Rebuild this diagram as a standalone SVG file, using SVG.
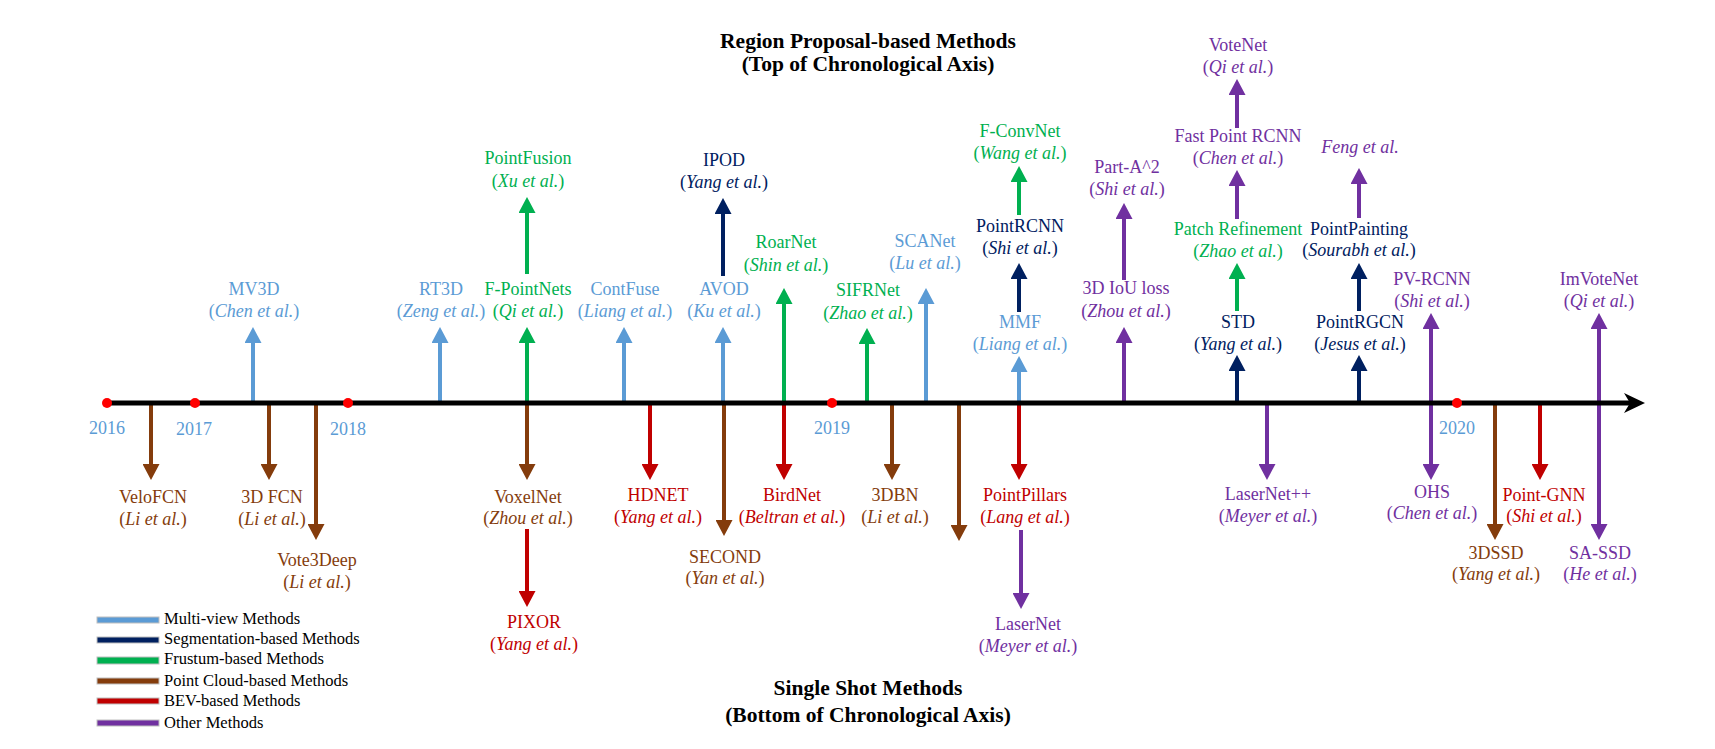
<svg xmlns="http://www.w3.org/2000/svg" width="1715" height="749" viewBox="0 0 1715 749">
<style>
.t, .t text, .t tspan{font-family:"Liberation Serif","Times New Roman",serif;font-size:18px;text-anchor:middle}
.i{font-style:italic}
.h{font-family:"Liberation Serif","Times New Roman",serif;font-size:21.5px;font-weight:bold;text-anchor:middle;fill:#000}
.lg{font-family:"Liberation Serif","Times New Roman",serif;font-size:16.5px;fill:#000}
.mv{fill:#5B9BD5}.sg{fill:#002060}.fr{fill:#00B050}.pc{fill:#843C0C}.bev{fill:#C00000}.ot{fill:#7030A0}
.a{stroke-width:4;fill:none}
.amv{stroke:#5B9BD5;marker-end:url(#hmv)}
.asg{stroke:#002060;marker-end:url(#hsg)}
.afr{stroke:#00B050;marker-end:url(#hfr)}
.apc{stroke:#843C0C;marker-end:url(#hpc)}
.abev{stroke:#C00000;marker-end:url(#hbev)}
.aot{stroke:#7030A0;marker-end:url(#hot)}
.dot{fill:#FF0000}
.yr{font-family:"Liberation Serif","Times New Roman",serif;font-size:18px;text-anchor:middle;fill:#5B9BD5}
.lb{stroke:#BFBFBF;stroke-width:1}
</style>
<defs>
<marker id="hmv" markerUnits="userSpaceOnUse" markerWidth="16" markerHeight="17" viewBox="0 0 16 17" refX="6" refY="8.5" orient="auto"><path d="M0,0 L16,8.5 L0,17 Z" fill="#5B9BD5"/></marker>
<marker id="hsg" markerUnits="userSpaceOnUse" markerWidth="16" markerHeight="17" viewBox="0 0 16 17" refX="6" refY="8.5" orient="auto"><path d="M0,0 L16,8.5 L0,17 Z" fill="#002060"/></marker>
<marker id="hfr" markerUnits="userSpaceOnUse" markerWidth="16" markerHeight="17" viewBox="0 0 16 17" refX="6" refY="8.5" orient="auto"><path d="M0,0 L16,8.5 L0,17 Z" fill="#00B050"/></marker>
<marker id="hpc" markerUnits="userSpaceOnUse" markerWidth="16" markerHeight="17" viewBox="0 0 16 17" refX="6" refY="8.5" orient="auto"><path d="M0,0 L16,8.5 L0,17 Z" fill="#843C0C"/></marker>
<marker id="hbev" markerUnits="userSpaceOnUse" markerWidth="16" markerHeight="17" viewBox="0 0 16 17" refX="6" refY="8.5" orient="auto"><path d="M0,0 L16,8.5 L0,17 Z" fill="#C00000"/></marker>
<marker id="hot" markerUnits="userSpaceOnUse" markerWidth="16" markerHeight="17" viewBox="0 0 16 17" refX="6" refY="8.5" orient="auto"><path d="M0,0 L16,8.5 L0,17 Z" fill="#7030A0"/></marker>
</defs>
<rect width="1715" height="749" fill="#fff"/>

<g id="titles">
<text class="h" x="868" y="48">Region Proposal-based Methods</text>
<text class="h" x="868" y="71">(Top of Chronological Axis)</text>
<text class="h" x="868" y="695">Single Shot Methods</text>
<text class="h" x="868" y="722">(Bottom of Chronological Axis)</text>
</g>

<g id="connectors">
<line class="a apc" x1="151" y1="405" x2="151" y2="470"/>
<line class="a amv" x1="253" y1="401" x2="253" y2="337"/>
<line class="a apc" x1="269" y1="405" x2="269" y2="470"/>
<line class="a apc" x1="316" y1="405" x2="316" y2="530"/>
<line class="a amv" x1="440" y1="401" x2="440" y2="337"/>
<line class="a afr" x1="527" y1="401" x2="527" y2="337"/>
<line class="a afr" x1="527" y1="274" x2="527" y2="207"/>
<line class="a apc" x1="527" y1="405" x2="527" y2="470"/>
<line class="a abev" x1="527" y1="529" x2="527" y2="597"/>
<line class="a amv" x1="624" y1="401" x2="624" y2="337"/>
<line class="a abev" x1="650" y1="405" x2="650" y2="470"/>
<line class="a amv" x1="723" y1="401" x2="723" y2="337"/>
<line class="a asg" x1="723" y1="276" x2="723" y2="208"/>
<line class="a apc" x1="724" y1="405" x2="724" y2="526"/>
<line class="a afr" x1="784" y1="401" x2="784" y2="298"/>
<line class="a abev" x1="784" y1="405" x2="784" y2="470"/>
<line class="a afr" x1="867" y1="401" x2="867" y2="338"/>
<line class="a apc" x1="892" y1="405" x2="892" y2="470"/>
<line class="a amv" x1="926" y1="401" x2="926" y2="298"/>
<line class="a apc" x1="959" y1="405" x2="959" y2="531"/>
<line class="a amv" x1="1019" y1="401" x2="1019" y2="366"/>
<line class="a asg" x1="1019" y1="312" x2="1019" y2="273"/>
<line class="a afr" x1="1019" y1="215" x2="1019" y2="176"/>
<line class="a abev" x1="1019" y1="405" x2="1019" y2="470"/>
<line class="a aot" x1="1021" y1="530" x2="1021" y2="599"/>
<line class="a aot" x1="1124" y1="401" x2="1124" y2="337"/>
<line class="a aot" x1="1124" y1="280" x2="1124" y2="213"/>
<line class="a asg" x1="1237" y1="401" x2="1237" y2="365"/>
<line class="a afr" x1="1237" y1="311" x2="1237" y2="273"/>
<line class="a aot" x1="1237" y1="219" x2="1237" y2="180"/>
<line class="a aot" x1="1237" y1="128" x2="1237" y2="89"/>
<line class="a aot" x1="1267" y1="405" x2="1267" y2="470"/>
<line class="a asg" x1="1359" y1="401" x2="1359" y2="365"/>
<line class="a asg" x1="1359" y1="311" x2="1359" y2="273"/>
<line class="a aot" x1="1359" y1="218" x2="1359" y2="178"/>
<line class="a aot" x1="1431" y1="401" x2="1431" y2="323"/>
<line class="a aot" x1="1431" y1="405" x2="1431" y2="470"/>
<line class="a apc" x1="1495" y1="405" x2="1495" y2="530"/>
<line class="a abev" x1="1540" y1="405" x2="1540" y2="470"/>
<line class="a aot" x1="1599" y1="401" x2="1599" y2="323"/>
<line class="a aot" x1="1599" y1="405" x2="1599" y2="530"/>
</g>

<g id="axis">
<line x1="107" y1="403" x2="1630" y2="403" stroke="#000" stroke-width="5"/>
<path d="M1645,403 L1624,393 L1630,403 L1624,413 Z" fill="#000"/>
<circle class="dot" cx="107" cy="403" r="5"/>
<circle class="dot" cx="195" cy="403" r="5"/>
<circle class="dot" cx="348" cy="403" r="5"/>
<circle class="dot" cx="832" cy="403" r="5"/>
<circle class="dot" cx="1457" cy="403" r="5"/>
<text class="yr" x="107" y="434">2016</text>
<text class="yr" x="194" y="435">2017</text>
<text class="yr" x="348" y="435">2018</text>
<text class="yr" x="832" y="434">2019</text>
<text class="yr" x="1457" y="434">2020</text>
</g>

<g id="n-velofcn" class="t pc"><text x="153" y="503">VeloFCN</text><text x="153" y="525">(<tspan class="i">Li et al.</tspan>)</text></g>
<g id="n-mv3d" class="t mv"><text x="254" y="295">MV3D</text><text x="254" y="317">(<tspan class="i">Chen et al.</tspan>)</text></g>
<g id="n-3dfcn" class="t pc"><text x="272" y="503">3D FCN</text><text x="272" y="525">(<tspan class="i">Li et al.</tspan>)</text></g>
<g id="n-vote3deep" class="t pc"><text x="317" y="566">Vote3Deep</text><text x="317" y="588">(<tspan class="i">Li et al.</tspan>)</text></g>
<g id="n-rt3d" class="t mv"><text x="441" y="295">RT3D</text><text x="441" y="317">(<tspan class="i">Zeng et al.</tspan>)</text></g>
<g id="n-fpointnets" class="t fr"><text x="528" y="295">F-PointNets</text><text x="528" y="317">(<tspan class="i">Qi et al.</tspan>)</text></g>
<g id="n-pointfusion" class="t fr"><text x="528" y="164">PointFusion</text><text x="528" y="187">(<tspan class="i">Xu et al.</tspan>)</text></g>
<g id="n-contfuse" class="t mv"><text x="625" y="295">ContFuse</text><text x="625" y="317">(<tspan class="i">Liang et al.</tspan>)</text></g>
<g id="n-avod" class="t mv"><text x="724" y="295">AVOD</text><text x="724" y="317">(<tspan class="i">Ku et al.</tspan>)</text></g>
<g id="n-ipod" class="t sg"><text x="724" y="166">IPOD</text><text x="724" y="188">(<tspan class="i">Yang et al.</tspan>)</text></g>
<g id="n-roarnet" class="t fr"><text x="786" y="248">RoarNet</text><text x="786" y="271">(<tspan class="i">Shin et al.</tspan>)</text></g>
<g id="n-voxelnet" class="t pc"><text x="528" y="503">VoxelNet</text><text x="528" y="524">(<tspan class="i">Zhou et al.</tspan>)</text></g>
<g id="n-pixor" class="t bev"><text x="534" y="628">PIXOR</text><text x="534" y="650">(<tspan class="i">Yang et al.</tspan>)</text></g>
<g id="n-hdnet" class="t bev"><text x="658" y="501">HDNET</text><text x="658" y="523">(<tspan class="i">Yang et al.</tspan>)</text></g>
<g id="n-second" class="t pc"><text x="725" y="563">SECOND</text><text x="725" y="584">(<tspan class="i">Yan et al.</tspan>)</text></g>
<g id="n-birdnet" class="t bev"><text x="792" y="501">BirdNet</text><text x="792" y="523">(<tspan class="i">Beltran et al.</tspan>)</text></g>
<g id="n-sifrnet" class="t fr"><text x="868" y="296">SIFRNet</text><text x="868" y="319">(<tspan class="i">Zhao et al.</tspan>)</text></g>
<g id="n-scanet" class="t mv"><text x="925" y="247">SCANet</text><text x="925" y="269">(<tspan class="i">Lu et al.</tspan>)</text></g>
<g id="n-3dbn" class="t pc"><text x="895" y="501">3DBN</text><text x="895" y="523">(<tspan class="i">Li et al.</tspan>)</text></g>
<g id="n-mmf" class="t mv"><text x="1020" y="328">MMF</text><text x="1020" y="350">(<tspan class="i">Liang et al.</tspan>)</text></g>
<g id="n-pointrcnn" class="t sg"><text x="1020" y="232">PointRCNN</text><text x="1020" y="254">(<tspan class="i">Shi et al.</tspan>)</text></g>
<g id="n-fconvnet" class="t fr"><text x="1020" y="137">F-ConvNet</text><text x="1020" y="159">(<tspan class="i">Wang et al.</tspan>)</text></g>
<g id="n-pointpillars" class="t bev"><text x="1025" y="501">PointPillars</text><text x="1025" y="523">(<tspan class="i">Lang et al.</tspan>)</text></g>
<g id="n-lasernet" class="t ot"><text x="1028" y="630">LaserNet</text><text x="1028" y="652">(<tspan class="i">Meyer et al.</tspan>)</text></g>
<g id="n-3diou" class="t ot"><text x="1126" y="294">3D IoU loss</text><text x="1126" y="317">(<tspan class="i">Zhou et al.</tspan>)</text></g>
<g id="n-parta2" class="t ot"><text x="1127" y="173">Part-A^2</text><text x="1127" y="195">(<tspan class="i">Shi et al.</tspan>)</text></g>
<g id="n-std" class="t sg"><text x="1238" y="328">STD</text><text x="1238" y="350">(<tspan class="i">Yang et al.</tspan>)</text></g>
<g id="n-patchref" class="t fr"><text x="1238" y="235">Patch Refinement</text><text x="1238" y="257">(<tspan class="i">Zhao et al.</tspan>)</text></g>
<g id="n-fastpointrcnn" class="t ot"><text x="1238" y="142">Fast Point RCNN</text><text x="1238" y="164">(<tspan class="i">Chen et al.</tspan>)</text></g>
<g id="n-votenet" class="t ot"><text x="1238" y="51">VoteNet</text><text x="1238" y="73">(<tspan class="i">Qi et al.</tspan>)</text></g>
<g id="n-lasernetpp" class="t ot"><text x="1268" y="500">LaserNet++</text><text x="1268" y="522">(<tspan class="i">Meyer et al.</tspan>)</text></g>
<g id="n-pointrgcn" class="t sg"><text x="1360" y="328">PointRGCN</text><text x="1360" y="350">(<tspan class="i">Jesus et al.</tspan>)</text></g>
<g id="n-pointpainting" class="t sg"><text x="1359" y="235">PointPainting</text><text x="1359" y="256">(<tspan class="i">Sourabh et al.</tspan>)</text></g>
<g id="n-feng" class="t ot"><text x="1360" y="153" class="i">Feng et al.</text></g>
<g id="n-pvrcnn" class="t ot"><text x="1432" y="285">PV-RCNN</text><text x="1432" y="307">(<tspan class="i">Shi et al.</tspan>)</text></g>
<g id="n-ohs" class="t ot"><text x="1432" y="498">OHS</text><text x="1432" y="519">(<tspan class="i">Chen et al.</tspan>)</text></g>
<g id="n-3dssd" class="t pc"><text x="1496" y="559">3DSSD</text><text x="1496" y="580">(<tspan class="i">Yang et al.</tspan>)</text></g>
<g id="n-pointgnn" class="t bev"><text x="1544" y="501">Point-GNN</text><text x="1544" y="522">(<tspan class="i">Shi et al.</tspan>)</text></g>
<g id="n-imvotenet" class="t ot"><text x="1599" y="285">ImVoteNet</text><text x="1599" y="307">(<tspan class="i">Qi et al.</tspan>)</text></g>
<g id="n-sassd" class="t ot"><text x="1600" y="559">SA-SSD</text><text x="1600" y="580">(<tspan class="i">He et al.</tspan>)</text></g>

<g id="legend">
<rect class="lb" x="97" y="617" width="62" height="6" fill="#5B9BD5"/>
<text class="lg" x="164" y="624">Multi-view Methods</text>
<rect class="lb" x="97" y="637" width="62" height="6" fill="#002060"/>
<text class="lg" x="164" y="644">Segmentation-based Methods</text>
<rect class="lb" x="97" y="657" width="62" height="7" fill="#00B050"/>
<text class="lg" x="164" y="664">Frustum-based Methods</text>
<rect class="lb" x="97" y="678" width="62" height="6" fill="#843C0C"/>
<text class="lg" x="164" y="686">Point Cloud-based Methods</text>
<rect class="lb" x="97" y="698" width="62" height="6" fill="#C00000"/>
<text class="lg" x="164" y="706">BEV-based Methods</text>
<rect class="lb" x="97" y="720" width="62" height="6" fill="#7030A0"/>
<text class="lg" x="164" y="728">Other Methods</text>
</g>
</svg>
